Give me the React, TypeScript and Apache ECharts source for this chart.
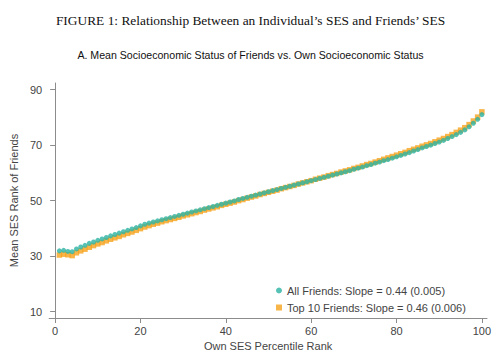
import React, { useEffect, useRef } from "react";
import * as echarts from "echarts";

const ownRank: number[] = Array.from({ length: 100 }, (_, i) => i + 1);

const allFriends: number[] = [
  31.9, 32.1, 31.7, 31.6, 32.6, 33.3, 33.9, 34.6, 35.1, 35.7,
  36.2, 36.7, 37.3, 37.8, 38.3, 38.8, 39.3, 39.8, 40.3, 40.9,
  41.5, 41.9, 42.3, 42.7, 43.1, 43.5, 43.9, 44.3, 44.7, 45.1,
  45.5, 45.9, 46.3, 46.7, 47.1, 47.5, 47.9, 48.3, 48.7, 49.1,
  49.5, 49.9, 50.4, 50.8, 51.2, 51.6, 52.0, 52.4, 52.8, 53.2,
  53.6, 54.0, 54.4, 54.8, 55.2, 55.6, 56.0, 56.4, 56.8, 57.2,
  57.6, 58.0, 58.4, 58.8, 59.2, 59.6, 60.0, 60.4, 60.8, 61.3,
  61.7, 62.1, 62.6, 63.0, 63.5, 63.9, 64.4, 64.8, 65.3, 65.8,
  66.3, 66.8, 67.3, 67.9, 68.4, 69.0, 69.5, 70.0, 70.6, 71.1,
  71.7, 72.4, 73.1, 73.8, 74.6, 75.5, 76.6, 77.9, 79.3, 81.0,
];

const top10Friends: number[] = [
  30.4, 30.7, 30.5, 30.2, 31.2, 31.9, 32.5, 33.2, 33.8, 34.4,
  34.9, 35.5, 36.1, 36.6, 37.1, 37.7, 38.2, 38.7, 39.3, 39.9,
  40.5, 41.0, 41.5, 41.9, 42.4, 42.8, 43.2, 43.6, 44.0, 44.5,
  44.9, 45.3, 45.7, 46.1, 46.6, 47.0, 47.4, 47.8, 48.3, 48.7,
  49.1, 49.5, 50.0, 50.4, 50.9, 51.3, 51.7, 52.2, 52.6, 53.0,
  53.4, 53.8, 54.3, 54.7, 55.1, 55.5, 56.0, 56.4, 56.8, 57.2,
  57.7, 58.1, 58.5, 59.0, 59.4, 59.8, 60.3, 60.7, 61.1, 61.6,
  62.0, 62.5, 63.0, 63.4, 63.9, 64.4, 64.9, 65.4, 65.9, 66.4,
  66.9, 67.4, 68.0, 68.5, 69.0, 69.6, 70.1, 70.6, 71.2, 71.8,
  72.4, 73.1, 73.8, 74.6, 75.4, 76.3, 77.4, 78.7, 80.1, 82.0,
];

const xTicks: number[] = [0, 20, 40, 60, 80, 100];
const yTicks: number[] = [10, 30, 50, 70, 90];

const seriesNames: string[] = [
  "All Friends: Slope = 0.44 (0.005)",
  "Top 10 Friends: Slope = 0.46 (0.006)",
];

const TEAL = "#2ab3a3";
const ORANGE = "#f6a31c";
const SANS = "Liberation Sans, Arial, Helvetica, sans-serif";

export default function App() {
  const ref = useRef<HTMLDivElement>(null);
  useEffect(() => {
    if (!ref.current) return;
    const chart = echarts.init(ref.current, null, { renderer: "svg" });
    const axisLine = { show: true, lineStyle: { color: "#8c8c8c", width: 1 } };
    chart.setOption({
      animation: false,
      backgroundColor: "#ffffff",
      title: [
        {
          text: "FIGURE 1: Relationship Between an Individual\u2019s SES and Friends\u2019 SES",
          left: "center",
          top: 9,
          textStyle: { fontFamily: "Liberation Serif, serif", fontSize: 13.4, fontWeight: "normal", color: "#111" },
        },
        {
          text: "A. Mean Socioeconomic Status of Friends vs. Own Socioeconomic Status",
          left: "center",
          top: 44,
          textStyle: { fontFamily: SANS, fontSize: 10.6, fontWeight: "normal", color: "#111" },
        },
      ],
      legend: {
        orient: "vertical",
        left: 271,
        top: 280,
        itemWidth: 6,
        itemHeight: 6,
        itemGap: 6,
        textStyle: { fontFamily: SANS, fontSize: 11, color: "#444" },
        data: [
          { name: seriesNames[0], icon: "circle" },
          { name: seriesNames[1], icon: "rect" },
        ],
      },
      grid: { left: 47, right: 14, top: 83, bottom: 44, containLabel: false },
      xAxis: {
        type: "value",
        min: -1.4,
        max: 101.2,
        name: "Own SES Percentile Rank",
        nameLocation: "middle",
        nameGap: 22,
        nameTextStyle: { fontFamily: SANS, fontSize: 11, color: "#444" },
        axisLine,
        splitLine: { show: false },
        axisTick: { show: true, length: 5, customValues: xTicks, lineStyle: { color: "#8c8c8c" } },
        axisLabel: { customValues: xTicks, fontFamily: SANS, fontSize: 11, color: "#444", margin: 7 },
      },
      yAxis: {
        type: "value",
        min: 7.7,
        max: 92.4,
        name: "Mean SES Rank of Friends",
        nameLocation: "middle",
        nameGap: 29,
        nameTextStyle: { fontFamily: SANS, fontSize: 11, color: "#444" },
        axisLine,
        splitLine: { show: false },
        axisTick: { show: true, length: 5, customValues: yTicks, lineStyle: { color: "#8c8c8c" } },
        axisLabel: { customValues: yTicks, fontFamily: SANS, fontSize: 11, color: "#444", margin: 7 },
      },
      series: [
        {
          name: seriesNames[1],
          type: "scatter",
          symbol: "rect",
          symbolSize: 5.5,
          itemStyle: { color: ORANGE },
          data: ownRank.map((x, i) => [x, top10Friends[i]]),
        },
        {
          name: seriesNames[0],
          type: "scatter",
          symbol: "circle",
          symbolSize: 5,
          itemStyle: { color: TEAL },
          data: ownRank.map((x, i) => [x, allFriends[i]]),
        },
      ],
    });
    return () => chart.dispose();
  }, []);
  return <div ref={ref} style={{ width: 501, height: 362, position: "absolute", left: 0, top: 0 }} />;
}
